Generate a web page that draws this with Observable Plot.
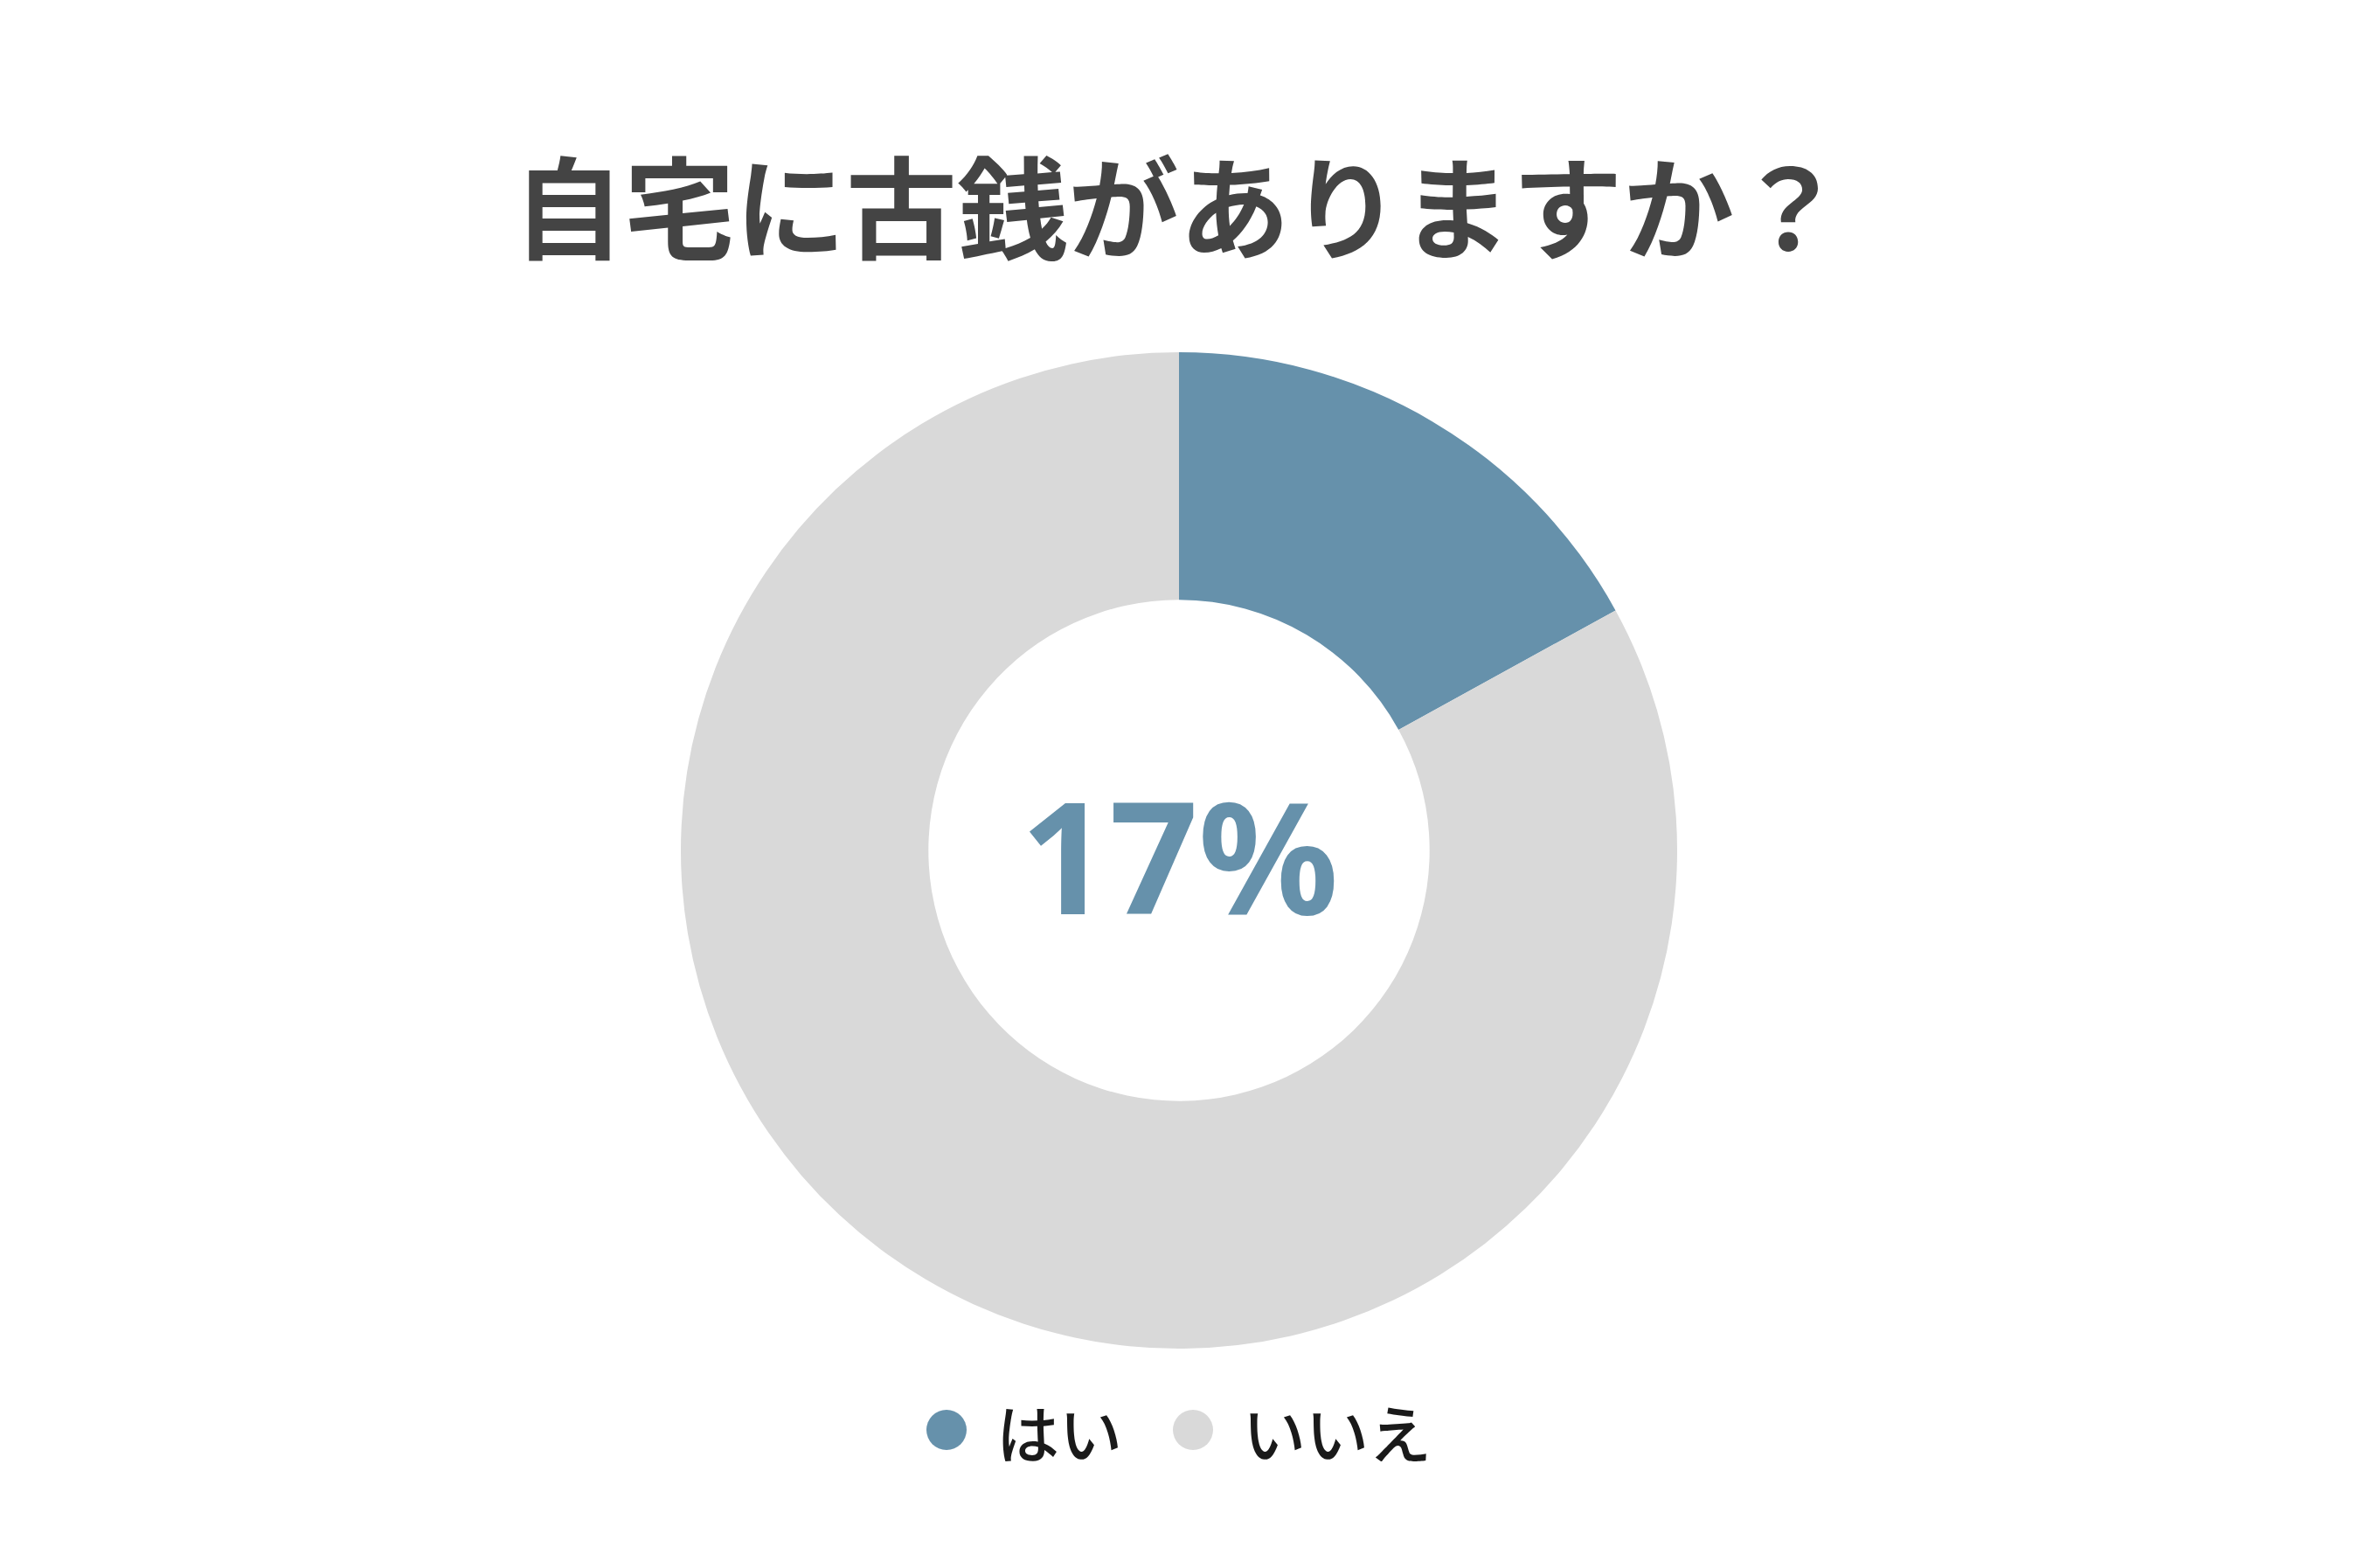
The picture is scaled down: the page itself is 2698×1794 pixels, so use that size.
<!DOCTYPE html>
<html>
<head>
<meta charset="utf-8">
<script src="https://cdn.jsdelivr.net/npm/d3@7"></script>
<script src="https://cdn.jsdelivr.net/npm/@observablehq/plot@0.6"></script>
<style>
  html, body { margin: 0; padding: 0; background: #ffffff; }
  #wrap { width: 2698px; }
  #title {
    margin: 0; padding-top: 164px; padding-bottom: 30px;
    font-family: "Noto Sans CJK JP", "Noto Sans", sans-serif;
    font-weight: 700; font-size: 127px; line-height: 136px;
    color: #444444; text-align: center; letter-spacing: 0px;
  }
  #legend {
    display: flex; justify-content: center; align-items: center;
    height: 72px;
    font-family: "Noto Sans CJK JP", sans-serif; font-weight: 500;
    font-size: 72px; color: #1a1a1a;
  }
  .item { display: flex; align-items: center; }
  .item + .item { margin-left: 58px; }
  .dot { width: 46px; height: 46px; border-radius: 50%; margin-right: 34px; }
</style>
</head>
<body>
<div id="wrap">
  <div id="title"></div>
  <div id="chart"></div>
  <div id="legend"></div>
</div>
<script>
const title = "自宅に古銭がありますか？";
const categories = ["はい", "いいえ"];
const values = [17, 83];
const colors = ["#6691ab", "#d9d9d9"];
const centerLabel = `${values[0]}%`;

document.getElementById("title").textContent = title;

const data = categories.map((c, i) => ({category: c, value: values[i]}));

const cx = 1349, cyIn = 643, R = 570;
const innerRatio = 0.503;

function donut(index, scales) {
  const x0 = scales.x(0), y0 = scales.y(0);
  const outer = scales.x(1) - x0;
  const pie = d3.pie().sort(null).value(d => d.value)(data);
  const arc = d3.arc().innerRadius(outer * innerRatio).outerRadius(outer);
  const g = d3.create("svg:g").attr("transform", `translate(${x0},${y0})`);
  g.selectAll("path").data(pie).join("path")
    .attr("d", arc)
    .attr("fill", d => scales.color(d.data.category));
  return g.node();
}

const chart = Plot.plot({
  width: 2698,
  height: 1270,
  margin: 0,
  x: {domain: [-1, 1], range: [cx - R, cx + R], axis: null},
  y: {domain: [-1, 1], range: [cyIn + R, cyIn - R], axis: null},
  color: {domain: categories, range: colors},
  style: {background: "transparent"},
  marks: [
    donut,
    Plot.text([centerLabel], {
      x: () => 0, y: () => 0, text: d => d,
      fill: colors[0], fontSize: 178, fontWeight: 700,
      fontFamily: "Noto Sans, sans-serif", dy: 16
    })
  ]
});
document.getElementById("chart").appendChild(chart);

const legend = document.getElementById("legend");
categories.forEach((c, i) => {
  const item = document.createElement("div");
  item.className = "item";
  const dot = document.createElement("div");
  dot.className = "dot";
  dot.style.background = colors[i];
  const label = document.createElement("span");
  label.textContent = c;
  item.appendChild(dot);
  item.appendChild(label);
  legend.appendChild(item);
});
</script>
</body>
</html>
